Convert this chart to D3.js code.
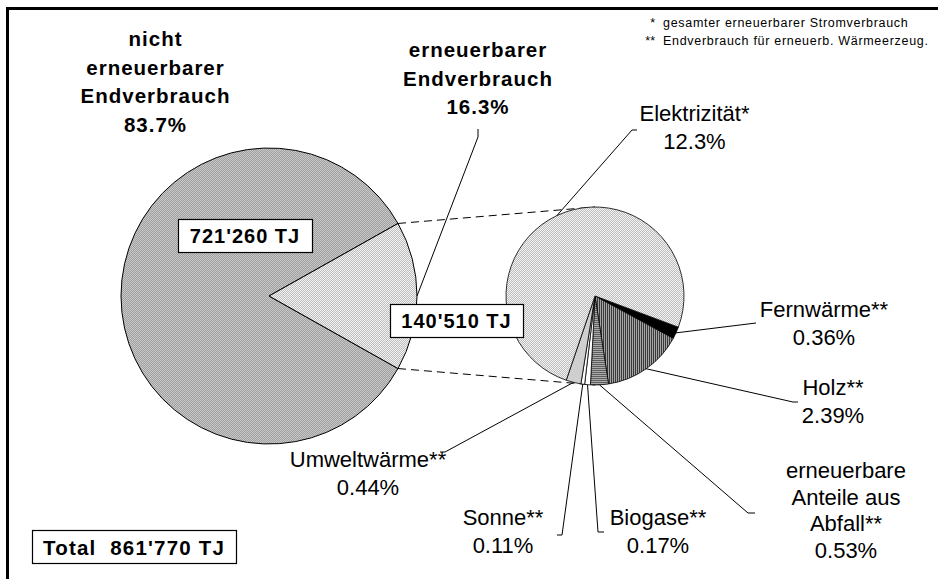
<!DOCTYPE html>
<html>
<head>
<meta charset="utf-8">
<script src="https://cdn.jsdelivr.net/npm/d3@7"></script>
<style>
  body { margin: 0; background: #fff; }
  text { font-family: "Liberation Sans", Arial, sans-serif; fill: #000; }
</style>
</head>
<body>
<svg id="chart" width="938" height="579"></svg>
<script>
// data
const mainCategories = [["nicht", "erneuerbarer", "Endverbrauch"], ["erneuerbarer", "Endverbrauch"]];
const mainValues = [721260, 140510];
const mainShares = [83.7, 16.3];

const subCategories = [
  ["Fernwärme**"],
  ["Holz**"],
  ["erneuerbare", "Anteile aus", "Abfall**"],
  ["Biogase**"],
  ["Sonne**"],
  ["Umweltwärme**"],
  ["Elektrizität*"]
];
const subShares = [0.36, 2.39, 0.53, 0.17, 0.11, 0.44, 12.3];

const totalLabel = "Total";
const notes = [
  ["*", "gesamter erneuerbarer Stromverbrauch"],
  ["**", "Endverbrauch für erneuerb. Wärmeerzeug."]
];

// layout
const big = { cx: 269, cy: 296, r: 148 };
const small = { cx: 595, cy: 296, r: 89 };
const mainLabelAt = [[155.5, 46], [478, 57]];
const mainLeader = [null, [[478, 137], [478, 129]]];
const valueBox = [[178, 219, 134, 33], [390, 304, 133, 33]];
const subLabelAt = [[824, 317], [833, 395], [846, 478], [658, 525], [503, 525], [368, 467], [694.5, 121]];
const subLineH = [28, 28, 26.5, 28, 28, 28, 28];
const subLeader = [
  [[756, 323]],
  [[793, 402], [798, 402]],
  [[748, 513], [755, 513]],
  [[598, 532], [604, 532]],
  [[562, 535], [557, 535]],
  [[445, 452], [440, 452]],
  [[632, 130], [637, 130]]
];
const mainFill = ["url(#pNon)", "url(#pLight)"];
const subFill = ["#000", "url(#pHolz)", "url(#pAbf)", "#fff", "#fff", "#cfcfcf", "url(#pLight)"];

const svg = d3.select("#chart");
const loc = d3.formatLocale({ decimal: ".", thousands: "'", grouping: [3], currency: ["", ""] });
const fmtTJ = loc.format(",d");
const pct = (v) => (v >= 10 ? d3.format(".1f")(v) : d3.format(".2f")(v)) + "%";

// patterns
const defs = svg.append("defs");
function pattern(id, w, h, bg, cells) {
  const p = defs.append("pattern").attr("id", id).attr("patternUnits", "userSpaceOnUse")
    .attr("width", w).attr("height", h);
  p.append("rect").attr("width", w).attr("height", h).attr("fill", bg);
  cells.forEach(([x, y, cw, ch, c]) =>
    p.append("rect").attr("x", x).attr("y", y).attr("width", cw).attr("height", ch).attr("fill", c));
}
pattern("pNon", 2, 2, "#c8c8c8", [[0, 0, 1, 1, "#a0a0a0"], [1, 1, 1, 1, "#a0a0a0"]]);
pattern("pLight", 2, 2, "#f4f4f4", [[0, 0, 1, 1, "#bcbcbc"], [1, 1, 1, 1, "#bcbcbc"]]);
pattern("pHolz", 2, 2, "#a4a4a4", [[0, 0, 1, 2, "#3a3a3a"]]);
pattern("pAbf", 2, 2, "#aaaaaa", [[0, 0, 2, 1, "#5e5e5e"]]);

// frame
svg.append("path").attr("d", "M7.5,590V8.5H950").attr("fill", "none")
  .attr("stroke", "#000").attr("stroke-width", 3);

// pie geometry
const total = d3.sum(mainValues);
const mainStart = Math.PI / 2 + Math.PI * mainValues[1] / total;
const mainPie = d3.pie().sort(null).startAngle(mainStart).endAngle(mainStart + 2 * Math.PI)(mainValues);
const subStart = (110.5 * Math.PI) / 180;
const subPie = d3.pie().sort(null).startAngle(subStart).endAngle(subStart + 2 * Math.PI)(subShares);

const pt = (c, a, r = c.r) => [c.cx + r * Math.sin(a), c.cy - r * Math.cos(a)];

// connector lines (dashed), behind pies
const ren = mainPie[1];
[[pt(big, ren.startAngle), [small.cx, small.cy - small.r]],
 [pt(big, ren.endAngle), [small.cx, small.cy + small.r]]].forEach(([a, b]) => {
  svg.append("line").attr("x1", a[0]).attr("y1", a[1]).attr("x2", b[0]).attr("y2", b[1])
    .attr("stroke", "#000").attr("stroke-width", 1).attr("stroke-dasharray", "8,5");
});

// big pie
const bigArc = d3.arc().innerRadius(0).outerRadius(big.r);
svg.append("g").attr("transform", `translate(${big.cx},${big.cy})`)
  .selectAll("path").data(mainPie).join("path")
  .attr("d", bigArc).attr("fill", (d, i) => mainFill[i])
  .attr("stroke", "#000").attr("stroke-width", 1);

// small pie
const smallArc = d3.arc().innerRadius(0).outerRadius(small.r);
svg.append("g").attr("transform", `translate(${small.cx},${small.cy})`)
  .selectAll("path").data(subPie).join("path")
  .attr("d", smallArc).attr("fill", (d, i) => subFill[i])
  .attr("stroke", "#000").attr("stroke-width", 0.8);

// leader lines
const line = d3.line();
mainPie.forEach((d, i) => {
  if (!mainLeader[i]) return;
  const mid = (d.startAngle + d.endAngle) / 2;
  svg.append("path").attr("d", line([pt(big, mid), ...mainLeader[i]]))
    .attr("fill", "none").attr("stroke", "#000").attr("stroke-width", 1);
});
subPie.forEach((d, i) => {
  const mid = (d.startAngle + d.endAngle) / 2;
  svg.append("path").attr("d", line([pt(small, mid), ...subLeader[i]]))
    .attr("fill", "none").attr("stroke", "#000").attr("stroke-width", 1);
});

// main labels (bold)
mainCategories.forEach((lines, i) => {
  const t = svg.append("text").attr("text-anchor", "middle")
    .style("font-size", "20.5px").style("font-weight", "bold").style("letter-spacing", "1px");
  lines.concat([mainShares[i].toFixed(1) + "%"]).forEach((s, k) => {
    t.append("tspan").attr("x", mainLabelAt[i][0]).attr("y", mainLabelAt[i][1] + k * 28.5).text(s);
  });
});

// value boxes
mainValues.forEach((v, i) => {
  const [x, y, w, h] = valueBox[i];
  svg.append("rect").attr("x", x + 0.5).attr("y", y + 0.5).attr("width", w).attr("height", h)
    .attr("fill", "#fff").attr("stroke", "#000").attr("stroke-width", 1.2);
  svg.append("text").attr("x", x + w / 2).attr("y", y + h / 2 + 7.5).attr("text-anchor", "middle")
    .style("font-size", "20px").style("font-weight", "bold").style("letter-spacing", "1px")
    .text(fmtTJ(v) + " TJ");
});

// sub labels
subCategories.forEach((lines, i) => {
  const t = svg.append("text").attr("text-anchor", "middle").style("font-size", "22px");
  lines.concat([pct(subShares[i])]).forEach((s, k) => {
    t.append("tspan").attr("x", subLabelAt[i][0]).attr("y", subLabelAt[i][1] + k * subLineH[i]).text(s);
  });
});

// total box
svg.append("rect").attr("x", 32.5).attr("y", 530.5).attr("width", 204).attr("height", 33)
  .attr("fill", "#fff").attr("stroke", "#000").attr("stroke-width", 1.2);
svg.append("text").attr("x", 43).attr("y", 555)
  .style("font-size", "20.5px").style("font-weight", "bold").style("letter-spacing", "1.2px")
  .style("white-space", "pre")
  .text(`${totalLabel}  ${fmtTJ(total)} TJ`);

// notes
notes.forEach(([star, s], i) => {
  svg.append("text").attr("x", 655).attr("y", 27 + i * 17.5).attr("text-anchor", "end")
    .style("font-size", "12.5px").text(star);
  svg.append("text").attr("x", 663).attr("y", 27 + i * 17.5)
    .style("font-size", "12.5px").style("letter-spacing", "0.7px").text(s);
});
</script>
</body>
</html>
